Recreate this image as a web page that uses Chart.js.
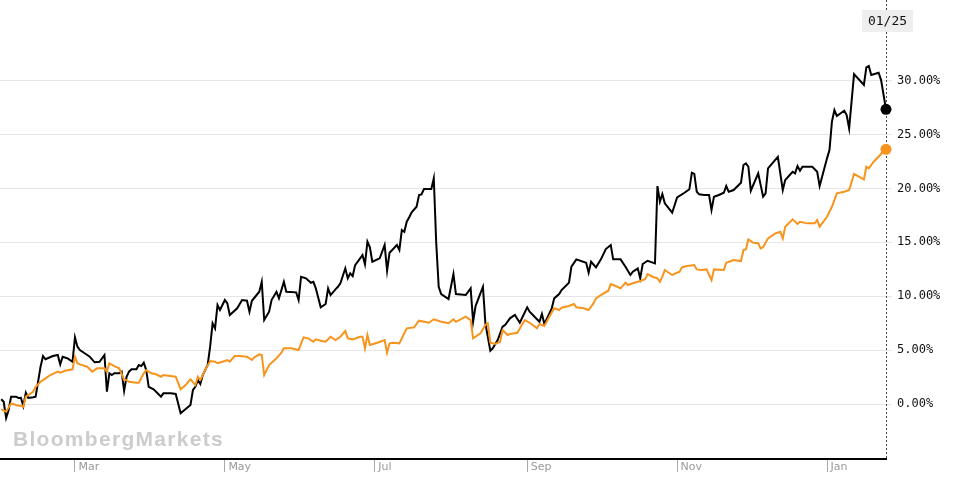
<!DOCTYPE html>
<html>
<head>
<meta charset="utf-8">
<script src="https://cdn.jsdelivr.net/npm/chart.js@4.4.1/dist/chart.umd.min.js"></script>
<style>
  html, body { margin: 0; padding: 0; background: #fff; }
  #wrap { position: relative; width: 961px; height: 491px; }
</style>
</head>
<body>
<div id="wrap"><canvas id="chart"></canvas></div>
<script>
// days counted from the first sample (Jan 30); last sample is 01/25
const monthDays = [30, 91, 152, 214, 275, 336];
const monthLabels = ["Mar", "May", "Jul", "Sep", "Nov", "Jan"];
const yTicks = [0, 5, 10, 15, 20, 25, 30];
const lastDateLabel = "01/25";
const watermark = "BloombergMarkets";

const blackDays = [
  0, 1, 2, 3, 4, 6, 7, 8, 9, 10, 11, 13, 14, 15, 16, 17, 18, 21, 23, 24,
  25, 27, 29, 30, 31, 32, 35, 36, 38, 40, 42, 43, 44, 45, 46, 48, 49, 50, 51, 52,
  53, 55, 56, 57, 58, 59, 60, 62, 65, 66, 67, 69, 71, 73, 77, 78, 79, 80, 81, 82,
  84, 85, 86, 87, 88, 89, 91, 92, 93, 96, 98, 100, 101, 102, 105, 106, 107, 109, 110, 112,
  113, 115, 116, 120, 121, 122, 124, 126, 127, 128, 130, 132, 133, 134, 136, 137, 138, 140, 141, 142,
  143, 144, 147, 148, 149, 150, 151, 154, 156, 157, 158, 161, 162, 163, 164, 165, 166, 167, 169, 170,
  171, 172, 175, 176, 177, 178, 179, 182, 184, 185, 189, 191, 192, 193, 196, 197, 199, 200, 202, 204,
  205, 207, 209, 211, 214, 215, 218, 219, 220, 221, 224, 225, 227, 228, 231, 232, 234, 238, 239, 240,
  242, 244, 246, 248, 249, 252, 254, 256, 257, 259, 260, 261, 263, 266, 267, 268, 269, 270, 273, 275,
  278, 280, 281, 282, 283, 284, 286, 288, 289, 290, 292, 294, 295, 296, 298, 301, 302, 303, 304, 305,
  308, 310, 311, 312, 316, 318, 319, 322, 323, 324, 325, 326, 330, 332, 333, 336, 337, 338, 339, 340,
  343, 344, 345, 347, 351, 352, 353, 354, 357, 358, 360
];
const blackValues = [
  0.44, 0.21, -1.30, -0.56, 0.68, 0.68, 0.56, 0.58, -0.19, 1.05, 0.56, 0.62, 0.68, 2.07, 3.46, 4.45, 4.15, 4.45, 4.55, 3.68,
  4.39, 4.24, 3.92, 6.19, 5.32, 5.01, 4.55, 4.39, 3.87, 3.92, 4.55, 1.14, 2.85, 2.69, 2.85, 2.85, 3.00, 1.23, 2.53, 3.00,
  3.22, 3.22, 3.62, 3.52, 3.83, 3.15, 1.60, 1.36, 0.68, 0.99, 0.99, 0.99, 0.93, -0.86, -0.09, 1.30, 1.60, 2.23, 1.86, 2.69,
  3.62, 5.32, 7.49, 7.02, 9.18, 8.72, 9.65, 9.34, 8.26, 8.88, 9.65, 9.58, 8.56, 9.58, 10.42, 11.34, 7.79, 8.56, 9.65, 10.42,
  9.80, 11.34, 10.42, 10.36, 9.65, 11.81, 11.66, 11.25, 11.34, 10.73, 8.97, 9.28, 10.73, 10.11, 10.64, 10.88, 11.20, 12.59, 11.66, 12.12,
  11.87, 12.89, 13.82, 12.96, 15.06, 14.54, 13.20, 13.52, 14.75, 12.37, 14.03, 14.75, 14.29, 16.14, 15.98, 16.91, 17.32, 17.78, 18.30, 19.39,
  19.45, 19.94, 19.94, 20.94, 14.91, 10.88, 10.20, 9.74, 12.06, 10.20, 10.11, 10.73, 7.63, 9.09, 10.88, 7.49, 4.94, 5.17, 5.94, 7.17,
  7.33, 7.95, 8.26, 7.54, 8.97, 8.56, 7.86, 7.63, 8.35, 7.42, 8.88, 9.80, 10.20, 10.57, 11.25, 12.74, 13.42, 13.11, 12.18, 13.20,
  12.68, 13.42, 14.38, 14.75, 13.42, 13.42, 12.74, 11.97, 12.27, 12.59, 11.66, 12.99, 13.29, 13.05, 20.22, 18.77, 19.48, 18.62, 17.75, 19.17,
  19.60, 19.92, 21.46, 21.34, 19.69, 19.45, 19.39, 19.39, 18.00, 19.23, 19.39, 19.60, 20.22, 19.69, 19.85, 20.53, 22.17, 22.33, 22.01, 19.79,
  21.40, 19.23, 19.54, 21.86, 22.94, 19.85, 20.78, 21.55, 21.40, 22.08, 21.64, 22.01, 22.01, 21.55, 20.22, 22.79, 23.56, 26.19, 27.27, 26.72,
  27.21, 26.81, 25.57, 30.61, 29.60, 31.23, 31.35, 30.52, 30.73, 30.05, 27.34
];

const orangeDays = [
  0, 2, 4, 6, 8, 9, 10, 13, 14, 16, 18, 20, 23, 24, 26, 29, 30, 31, 32, 35,
  37, 39, 42, 43, 44, 46, 48, 50, 51, 52, 55, 56, 58, 59, 61, 63, 65, 66, 68, 71,
  73, 75, 77, 79, 80, 81, 83, 85, 87, 88, 91, 92, 93, 95, 97, 100, 102, 103, 105, 106,
  107, 109, 112, 114, 115, 118, 121, 123, 125, 127, 128, 130, 132, 134, 136, 138, 140, 141, 143, 146,
  147, 148, 149, 150, 153, 156, 157, 158, 160, 162, 164, 165, 168, 170, 174, 176, 179, 182, 184, 185,
  189, 191, 192, 195, 197, 198, 199, 201, 203, 204, 206, 207, 210, 213, 215, 218, 219, 221, 223, 225,
  227, 228, 231, 233, 234, 237, 239, 241, 242, 244, 247, 248, 250, 252, 254, 255, 257, 260, 262, 263,
  265, 267, 268, 269, 270, 271, 273, 276, 277, 279, 282, 283, 285, 287, 289, 290, 294, 295, 298, 301,
  302, 303, 304, 306, 308, 309, 310, 312, 315, 317, 318, 319, 322, 324, 325, 328, 331, 332, 333, 336,
  338, 340, 343, 345, 347, 351, 352, 353, 355, 358, 359, 360
];
const orangeValues = [
  -0.49, -0.71, 0.06, -0.09, -0.19, -0.25, 0.68, 1.14, 1.60, 2.07, 2.38, 2.69, 3.00, 2.90, 3.09, 3.22, 4.39, 3.78, 3.68, 3.46,
  3.00, 3.31, 3.31, 3.00, 3.78, 3.52, 3.31, 2.23, 2.23, 2.07, 1.98, 1.98, 2.85, 3.15, 2.85, 2.76, 2.53, 2.69, 2.63, 2.53,
  1.36, 1.76, 2.29, 1.76, 2.53, 2.23, 3.15, 3.99, 3.92, 3.78, 3.99, 4.08, 3.92, 4.45, 4.45, 4.39, 4.08, 4.33, 4.61, 4.55,
  2.69, 3.62, 4.24, 4.76, 5.17, 5.17, 5.01, 6.19, 6.09, 5.78, 6.00, 5.87, 5.78, 6.24, 5.94, 6.24, 6.77, 6.09, 6.00, 6.24,
  6.24, 5.17, 6.40, 5.47, 5.69, 5.94, 4.76, 5.63, 5.69, 5.63, 6.56, 7.02, 7.11, 7.73, 7.54, 7.86, 7.63, 7.49, 7.86, 7.63,
  8.10, 7.79, 6.09, 6.56, 7.33, 7.49, 5.69, 5.57, 5.78, 6.86, 6.40, 6.49, 6.61, 7.79, 7.54, 7.02, 7.42, 7.24, 8.10, 8.88,
  8.72, 8.93, 9.09, 9.28, 8.97, 8.88, 8.72, 9.34, 9.80, 10.11, 10.51, 11.13, 10.95, 10.73, 11.25, 11.04, 11.20, 11.41, 11.57, 12.06,
  11.81, 11.66, 11.34, 11.81, 12.43, 12.27, 11.97, 12.27, 12.68, 12.80, 12.89, 12.49, 12.43, 12.49, 11.50, 12.49, 12.43, 13.11, 13.36, 13.26,
  14.29, 14.35, 15.28, 14.96, 14.91, 14.44, 14.54, 15.37, 15.83, 15.98, 15.37, 16.45, 17.13, 16.70, 16.91, 16.76, 16.76, 17.07, 16.45, 17.37,
  18.30, 19.54, 19.69, 19.85, 21.34, 20.84, 22.01, 21.86, 22.48, 23.19, 23.56, 23.63
];

function toPoints(days, values) {
  return days.map((d, i) => ({ x: d, y: values[i] }));
}

function lastPointRadius(ctx) {
  return ctx.dataIndex === ctx.dataset.data.length - 1 ? 5.5 : 0;
}

function noPadding(axis) {
  axis.paddingTop = 0;
  axis.paddingBottom = 0;
  axis.paddingLeft = 0;
  axis.paddingRight = 0;
}

const overlayPlugin = {
  id: "overlay",
  beforeDatasetsDraw(chart) {
    const { ctx, chartArea } = chart;
    ctx.save();
    // watermark
    ctx.font = "bold 21px 'Liberation Sans', Arial, sans-serif";
    ctx.letterSpacing = "1.3px";
    ctx.fillStyle = "#cccccc";
    ctx.textBaseline = "alphabetic";
    ctx.textAlign = "left";
    ctx.fillText(watermark, chartArea.left + 13, chartArea.bottom - 13);
    ctx.restore();

    // dotted cursor line at the last date
    const x = Math.round(chart.scales.x.getPixelForValue(blackDays[blackDays.length - 1])) + 0.5;
    ctx.save();
    ctx.strokeStyle = "#444444";
    ctx.lineWidth = 1;
    ctx.setLineDash([2, 2]);
    ctx.beginPath();
    ctx.moveTo(x, chartArea.top);
    ctx.lineTo(x, chartArea.bottom);
    ctx.stroke();
    ctx.restore();
  },
  afterDraw(chart) {
    const { ctx } = chart;
    const x = chart.scales.x.getPixelForValue(blackDays[blackDays.length - 1]);
    ctx.save();
    ctx.fillStyle = "#eeeeee";
    ctx.fillRect(x - 24, 10, 51, 22);
    ctx.fillStyle = "#111111";
    ctx.font = "13px 'DejaVu Sans Mono', monospace";
    ctx.textAlign = "center";
    ctx.textBaseline = "middle";
    ctx.fillText(lastDateLabel, x + 1.5, 21.5);
    ctx.restore();
  },
};

new Chart(document.getElementById("chart"), {
  type: "line",
  data: {
    datasets: [
      {
        label: "Index",
        data: toPoints(orangeDays, orangeValues),
        borderColor: "#f7941d",
        backgroundColor: "#f7941d",
        borderWidth: 2,
        tension: 0,
        pointRadius: lastPointRadius,
        pointBorderWidth: 0,
        pointHoverRadius: 0,
        clip: 10,
      },
      {
        label: "Stock",
        data: toPoints(blackDays, blackValues),
        borderColor: "#000000",
        backgroundColor: "#000000",
        borderWidth: 2,
        tension: 0,
        pointRadius: lastPointRadius,
        pointBorderWidth: 0,
        pointHoverRadius: 0,
        clip: 10,
      },
    ],
  },
  options: {
    responsive: true,
    maintainAspectRatio: false,
    animation: false,
    events: [],
    layout: { padding: 0, autoPadding: false },
    plugins: { legend: { display: false }, tooltip: { enabled: false } },
    scales: {
      x: {
        type: "linear",
        min: -0.5,
        max: 360,
        afterBuildTicks: (axis) => {
          axis.ticks = monthDays.map((d) => ({ value: d }));
        },
        afterFit: (axis) => {
          axis.height = 32;
          noPadding(axis);
        },
        border: { display: true, color: "#000000", width: 2 },
        grid: {
          drawOnChartArea: false,
          drawTicks: true,
          tickLength: 13,
          color: "#a8a8a8",
          tickWidth: 1,
        },
        ticks: {
          autoSkip: false,
          maxRotation: 0,
          align: "start",
          padding: -11,
          color: "#9a9a9a",
          font: { family: "'DejaVu Sans', sans-serif", size: 11 },
          callback: (value, index) => " " + monthLabels[index],
        },
      },
      y: {
        position: "right",
        min: -5.1,
        max: 37.48,
        afterBuildTicks: (axis) => {
          axis.ticks = yTicks.map((v) => ({ value: v }));
        },
        afterFit: (axis) => {
          axis.width = 75;
          noPadding(axis);
        },
        border: { display: false },
        grid: {
          color: "#e6e6e6",
          lineWidth: 1,
          drawTicks: true,
          tickLength: 6,
        },
        ticks: {
          padding: 5,
          color: "#111111",
          font: { family: "'DejaVu Sans Mono', monospace", size: 12 },
          callback: (value) => value.toFixed(2) + "%",
        },
      },
    },
  },
  plugins: [overlayPlugin],
});
</script>
</body>
</html>
